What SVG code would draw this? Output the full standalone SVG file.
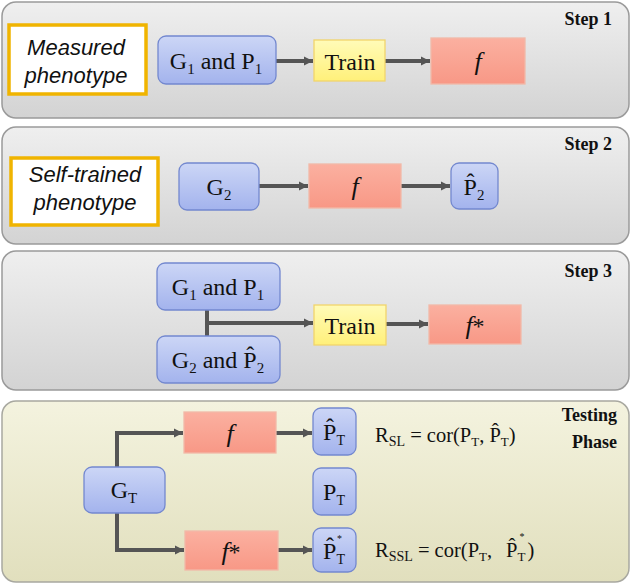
<svg xmlns="http://www.w3.org/2000/svg" width="634" height="586" viewBox="0 0 634 586">
<defs>
<linearGradient id="gPanel" x1="0" y1="0" x2="0" y2="1"><stop offset="0" stop-color="#efefef"/><stop offset="1" stop-color="#d3d3d3"/></linearGradient>
<linearGradient id="gTest" x1="0" y1="0" x2="0" y2="1"><stop offset="0" stop-color="#f4f3df"/><stop offset="1" stop-color="#e1dfbd"/></linearGradient>
<linearGradient id="gBlue" x1="0" y1="0" x2="0" y2="1"><stop offset="0" stop-color="#ccd6f6"/><stop offset="1" stop-color="#a3b3ed"/></linearGradient>
<linearGradient id="gYel" x1="0" y1="0" x2="0" y2="1"><stop offset="0" stop-color="#fffbb8"/><stop offset="1" stop-color="#fff07a"/></linearGradient>
<linearGradient id="gRed" x1="0" y1="0" x2="0" y2="1"><stop offset="0" stop-color="#fbb0a0"/><stop offset="1" stop-color="#f89886"/></linearGradient>
<marker id="arr" viewBox="0 0 10 10" refX="10" refY="5" markerWidth="9" markerHeight="10" markerUnits="userSpaceOnUse" orient="auto"><path d="M0,0 L10,5 L0,10 z" fill="#555"/></marker>
</defs>
<style>
.panel{fill:url(#gPanel);stroke:#9a9a9a;stroke-width:1.5}
.test{fill:url(#gTest);stroke:#a8a8a0;stroke-width:1.5}
.blue{fill:url(#gBlue);stroke:#7388cf;stroke-width:1.3}
.yel{fill:url(#gYel);stroke:#f1d46c;stroke-width:1.3}
.red{fill:url(#gRed);stroke:#f2b9a8;stroke-width:1.3}
.lab{fill:#fff;stroke:#f0b400;stroke-width:3.5}
.t{font-family:"Liberation Serif","Times New Roman",serif;font-size:24px;fill:#111;text-anchor:middle}
.fm{font-family:"Liberation Serif","Times New Roman",serif;font-size:20.5px;fill:#111}
.st{font-family:"Liberation Serif","Times New Roman",serif;font-size:18px;font-weight:bold;fill:#111;text-anchor:end}
.it{font-family:"Liberation Sans",Arial,sans-serif;font-size:22px;font-style:italic;fill:#111;text-anchor:middle}
.f{font-family:"Liberation Serif","Times New Roman",serif;font-style:italic;font-size:26px}
.con{fill:none;stroke:#555;stroke-width:4}
</style>
<g id="panels">
<rect class="panel" x="2" y="2" width="627" height="116" rx="14"/>
<rect class="panel" x="2" y="127" width="627" height="117" rx="14"/>
<rect class="panel" x="2" y="251" width="627" height="139" rx="14"/>
<rect class="test" x="2" y="401" width="627" height="181" rx="14"/>
<text class="st" x="612" y="25">Step 1</text>
<text class="st" x="612" y="150">Step 2</text>
<text class="st" x="612" y="277">Step 3</text>
<text class="st" x="617" y="421">Testing</text>
<text class="st" x="617" y="448">Phase</text>
</g>
<g id="connectors">
<line class="con" x1="276" y1="61" x2="313" y2="61" marker-end="url(#arr)"/>
<line class="con" x1="385" y1="61" x2="430" y2="61" marker-end="url(#arr)"/>
<line class="con" x1="259" y1="186" x2="308" y2="186" marker-end="url(#arr)"/>
<line class="con" x1="401" y1="186" x2="450" y2="186" marker-end="url(#arr)"/>
<line class="con" x1="207" y1="310" x2="207" y2="336"/>
<line class="con" x1="205" y1="323" x2="313" y2="323" marker-end="url(#arr)"/>
<line class="con" x1="386" y1="324" x2="428" y2="324" marker-end="url(#arr)"/>
<path class="con" d="M117,467 V433 H183" marker-end="url(#arr)"/>
<path class="con" d="M117,513 V550 H184" marker-end="url(#arr)"/>
<line class="con" x1="276" y1="433" x2="312" y2="433" marker-end="url(#arr)"/>
<line class="con" x1="278" y1="550" x2="312" y2="550" marker-end="url(#arr)"/>
</g>
<g id="measured">
<rect class="lab" x="9" y="25" width="137" height="69"/>
<text class="it" x="76" y="55">Measured</text>
<text class="it" x="76" y="83">phenotype</text>
</g>
<g id="s1-g1p1">
<rect class="blue" x="158" y="36" width="118" height="48" rx="8"/>
<text class="t" x="216" y="69">G<tspan font-size="15" dy="5">1</tspan><tspan dy="-5"> and P</tspan><tspan font-size="15" dy="5">1</tspan></text>
</g>
<g id="s1-train">
<rect class="yel" x="314" y="40" width="71" height="41"/>
<text class="t" x="350" y="70" font-size="25">Train</text>
</g>
<g id="s1-f">
<rect class="red" x="431" y="38" width="94" height="46"/>
<text class="t f" x="478" y="70">f</text>
</g>
<g id="selftrained">
<rect class="lab" x="11" y="158" width="147" height="67"/>
<text class="it" x="85" y="182">Self-trained</text>
<text class="it" x="85" y="210">phenotype</text>
</g>
<g id="s2-g2">
<rect class="blue" x="179" y="163" width="80" height="47" rx="8"/>
<text class="t" x="219" y="195">G<tspan font-size="15" dy="5">2</tspan></text>
</g>
<g id="s2-f">
<rect class="red" x="309" y="164" width="92" height="44"/>
<text class="t f" x="355" y="195">f</text>
</g>
<g id="s2-p2hat">
<rect class="blue" x="451" y="163" width="47" height="46" rx="8"/>
<text class="t" x="474" y="195">P̂<tspan font-size="15" dy="5">2</tspan></text>
</g>
<g id="s3-g1p1">
<rect class="blue" x="157" y="263" width="123" height="47" rx="8"/>
<text class="t" x="218" y="295">G<tspan font-size="15" dy="5">1</tspan><tspan dy="-5"> and P</tspan><tspan font-size="15" dy="5">1</tspan></text>
</g>
<g id="s3-g2p2hat">
<rect class="blue" x="157" y="336" width="123" height="47" rx="8"/>
<text class="t" x="218" y="368">G<tspan font-size="15" dy="5">2</tspan><tspan dy="-5"> and P̂</tspan><tspan font-size="15" dy="5">2</tspan></text>
</g>
<g id="s3-train">
<rect class="yel" x="314" y="305" width="72" height="40"/>
<text class="t" x="350" y="334" font-size="25">Train</text>
</g>
<g id="s3-fstar">
<rect class="red" x="429" y="305" width="92" height="39"/>
<text class="t" x="475" y="334"><tspan class="f">f</tspan>*</text>
</g>
<g id="t-gt">
<rect class="blue" x="84" y="467" width="81" height="46" rx="8"/>
<text class="t" x="124" y="498">G<tspan font-size="15" dy="5">T</tspan></text>
</g>
<g id="t-f">
<rect class="red" x="184" y="412" width="92" height="41"/>
<text class="t f" x="230" y="442">f</text>
</g>
<g id="t-pthat">
<rect class="blue" x="313" y="408" width="43" height="47" rx="8"/>
<text class="t" x="334" y="440">P̂<tspan font-size="14" dy="5">T</tspan></text>
</g>
<g id="t-pt">
<rect class="blue" x="313" y="468" width="43" height="47" rx="8"/>
<text class="t" x="334" y="500">P<tspan font-size="14" dy="5">T</tspan></text>
</g>
<g id="t-fstar">
<rect class="red" x="185" y="531" width="93" height="39"/>
<text class="t" x="231" y="560"><tspan class="f">f</tspan>*</text>
</g>
<g id="t-pthatstar">
<rect class="blue" x="313" y="528" width="43" height="44" rx="8"/>
<text class="t" x="334" y="559">P̂<tspan font-size="14" dy="5">T</tspan><tspan font-size="10" dx="-8" dy="-22">*</tspan></text>
</g>
<g id="formulas">
<text class="fm" x="375" y="442">R<tspan font-size="14" dy="4">SL</tspan><tspan dy="-4"> = cor(P</tspan><tspan font-size="13" dy="4">T</tspan><tspan dy="-4">, P̂</tspan><tspan font-size="13" dy="4">T</tspan><tspan dy="-4">)</tspan></text>
<text class="fm" x="375" y="557">R<tspan font-size="14" dy="4">SSL</tspan><tspan dy="-4"> = cor(P</tspan><tspan font-size="13" dy="4">T</tspan><tspan dy="-4">,</tspan><tspan dx="14">P̂</tspan><tspan font-size="13" dy="4">T</tspan><tspan font-size="10" dx="-6" dy="-21">*</tspan><tspan dx="3" dy="17">)</tspan></text>
</g>
</svg>
